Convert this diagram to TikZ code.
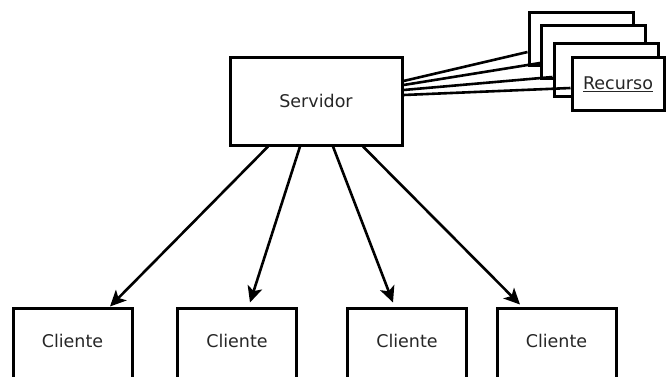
\documentclass[tikz,border=0pt]{standalone}
\usepackage{fontspec}
\setmainfont{DejaVu Sans}
\usetikzlibrary{arrows.meta}
\begin{document}
\begin{tikzpicture}[x=1pt,y=-1pt,
  box/.style={draw=black, line width=3pt, fill=white, inner sep=0pt, font=\fontsize{17.5}{19}\selectfont, text=black!85},
  srvbox/.style={box, minimum width=172pt, minimum height=88pt},
  resbox/.style={box, minimum width=104pt, minimum height=53pt},
  clibox/.style={box, minimum width=119pt, minimum height=74pt, text depth=8pt},
  link/.style={draw=black, line width=2.6pt},
  arr/.style={draw=black, line width=2.6pt, -{Stealth[length=16pt,width=15pt,inset=4pt]}}
]
\useasboundingbox (0,0) rectangle (667,376);
\node[srvbox] (srv) at (316,101) {Servidor};
\node[resbox] (r1) at (581,38.5) {};
\node[resbox] (r2) at (593.5,51.5) {};
\node[resbox] (r3) at (606,70) {};
\node[resbox, minimum width=92pt] (r4) at (618,84) {\underline{Recurso}};
\draw[link] ([yshift=20pt]srv.east) -- ([yshift=-13.5pt]r1.west);
\draw[link] ([yshift=16pt]srv.east) -- ([yshift=-11.5pt]r2.west);
\draw[link] ([yshift=11pt]srv.east) -- ([yshift=-7pt]r3.west);
\draw[link] ([yshift=6pt]srv.east) -- ([yshift=-4pt]r4.west);
\node[clibox] (c1) at (72.5,345) {Cliente};
\node[clibox] (c2) at (237,345) {Cliente};
\node[clibox] (c3) at (407,345) {Cliente};
\node[clibox] (c4) at (556.5,345) {Cliente};
\draw[arr] ([xshift=-48pt]srv.south) -- ([xshift=37.5pt]c1.north);
\draw[arr] ([xshift=-16pt]srv.south) -- ([xshift=13pt,yshift=4pt]c2.north);
\draw[arr] ([xshift=17pt]srv.south) -- ([xshift=-14pt,yshift=4pt]c3.north);
\draw[arr] ([xshift=47pt]srv.south) -- ([xshift=-36.5pt,yshift=2pt]c4.north);
\end{tikzpicture}
\end{document}
